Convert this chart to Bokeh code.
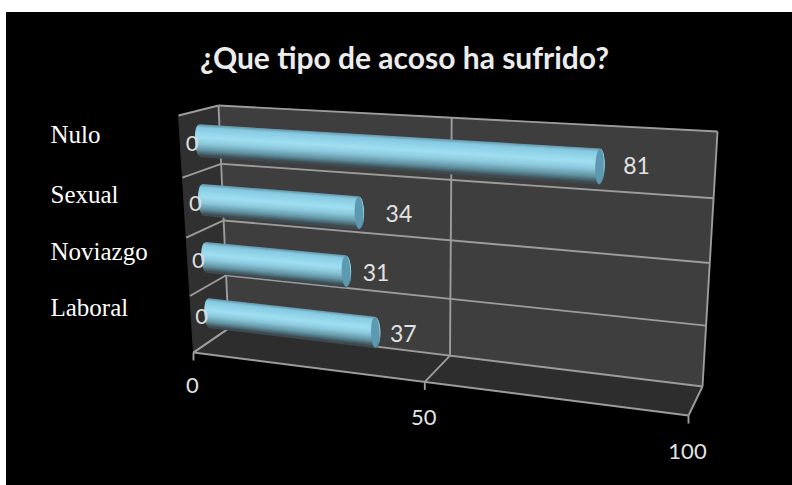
import numpy as np
from bokeh.core.properties import value
from bokeh.embed import file_html
from bokeh.models import Range1d
from bokeh.plotting import figure
from bokeh.resources import INLINE

# chart data
title = "¿Que tipo de acoso ha sufrido?"
categories = ["Nulo", "Sexual", "Noviazgo", "Laboral"]
values = [81, 34, 31, 37]
axis_ticks = [0, 50, 100]
axis_max = 100

W, H = 792, 485

# corners of the box in page pixels: front and back planes
FRONT = {"tl": (178, 115), "tr": (698, 146), "bl": (193, 352), "br": (688, 415)}
BACK = {"tl": (218, 105), "tr": (717, 131), "bl": (228, 328), "br": (702, 386)}
PERSP_V, PERSP_W = 1.14, 0.94


def warp(u, k):
    return u / (u + k * (1 - u))


def project(v, w, d):
    """Value v, height w (0 top, 1 floor), depth d (0 front, 1 back) to page pixels."""
    t, s = warp(v / axis_max, PERSP_V), warp(w, PERSP_W)
    pts = []
    for q in (FRONT, BACK):
        top = np.array(q["tl"]) * (1 - t) + np.array(q["tr"]) * t
        bot = np.array(q["bl"]) * (1 - t) + np.array(q["br"]) * t
        pts.append(top * (1 - s) + bot * s)
    return pts[0] * (1 - d) + pts[1] * d


def seg(p, a, b, color="#9c9c9c", width=1.9, alpha=1.0):
    p.line([a[0], b[0]], [a[1], b[1]], line_color=color, line_width=width, line_alpha=alpha)


def quad(p, pts, color):
    p.patch([q[0] for q in pts], [q[1] for q in pts], fill_color=color, line_color=color)


p = figure(width=W, height=H, output_backend="svg", toolbar_location=None,
           x_range=Range1d(0, W), y_range=Range1d(H, 0), min_border=0,
           background_fill_color="white", border_fill_color="white", outline_line_color=None)
p.xaxis.visible = False
p.yaxis.visible = False
p.xgrid.visible = False
p.ygrid.visible = False

# black slide behind the chart
p.patch([6, W, W, 6], [12, 12, H, H], fill_color="black", line_color="black")

# walls and floor
quad(p, [project(0, 0, 1), project(axis_max, 0, 1), project(axis_max, 1, 1), project(0, 1, 1)], "#3e3e3e")
quad(p, [project(0, 0, 0), project(0, 0, 1), project(0, 1, 1), project(0, 1, 0)], "#303030")
quad(p, [project(0, 1, 0), project(0, 1, 1), project(axis_max, 1, 1), project(axis_max, 1, 0)], "#2d2d2d")

# gridlines between categories, on the back wall and the left wall
n = len(categories)
for i in range(n + 1):
    w = i / n
    seg(p, project(0, w, 1), project(axis_max, w, 1))
    seg(p, project(0, w, 0), project(0, w, 1))

# gridlines at each value tick, on the back wall and the floor, with tick marks
for tick in axis_ticks:
    seg(p, project(tick, 0, 1), project(tick, 1, 1))
    seg(p, project(tick, 1, 0), project(tick, 1, 1))
    foot = project(tick, 1, 0)
    seg(p, foot, foot + np.array([0, 8]))
seg(p, project(0, 1, 0), project(axis_max, 1, 0))

# cylinders: horizontal strips shaded from the top edge to the underside
shade_pos = [0.0, 0.10, 0.40, 0.60, 0.80, 0.95, 1.0]
shade_rgb = [(98, 146, 166), (135, 202, 226), (160, 224, 242), (140, 200, 220),
             (100, 150, 165), (66, 88, 98), (62, 68, 70)]
STRIPS = 30
BAR_HALF = 0.0655
BAR_DEPTH = 0.5


def shade(f):
    rgb = [np.interp(f, shade_pos, [c[k] for c in shade_rgb]) for k in range(3)]
    return "#%02x%02x%02x" % tuple(int(c) for c in rgb)


for i, val in enumerate(values):
    wc = (i + 0.5) / n
    xs, ys, colors = [], [], []
    for k in range(STRIPS):
        f0, f1 = k / STRIPS, (k + 1) / STRIPS
        g0, g1 = 2 * f0 - 1, 2 * f1 - 1
        bulge0 = np.sqrt(max(0, 1 - g0 * g0)) * 4.5
        bulge1 = np.sqrt(max(0, 1 - g1 * g1)) * 4.5
        a = project(0, wc + g0 * BAR_HALF, BAR_DEPTH)
        b = project(val, wc + g0 * BAR_HALF, BAR_DEPTH)
        c = project(val, wc + g1 * BAR_HALF, BAR_DEPTH)
        d = project(0, wc + g1 * BAR_HALF, BAR_DEPTH)
        xs.append([a[0] - bulge0, b[0] + bulge0, c[0] + bulge1, d[0] - bulge1])
        ys.append([a[1], b[1], c[1], d[1]])
        colors.append(shade((k + 0.5) / STRIPS))
    p.patches(xs, ys, fill_color=colors, line_color=colors, line_width=1.3)

    # end cap at the value
    theta = np.linspace(0, 2 * np.pi, 40)
    top = project(val, wc - BAR_HALF, BAR_DEPTH)
    bot = project(val, wc + BAR_HALF, BAR_DEPTH)
    mid = (top + bot) / 2
    half = (bot - top) / 2
    cx = mid[0] + 4.5 * np.cos(theta) * 0.9 + half[0] * np.sin(theta)
    cy = mid[1] + half[1] * np.sin(theta)
    p.patch(cx, cy, fill_color="#5d99b0", line_color="#5d99b0", line_width=0.5)

label_font = value("Lato")
label_color = "#e2e2e2"

# category names to the left of the box
p.text(x=[50] * n, y=[project(0, (i + 0.5) / n, 0.5)[1] - 6 for i in range(n)], text=categories,
       text_font=value("Liberation Serif"), text_font_size="25px", text_color="white",
       text_align="left", text_baseline="middle")

# value labels next to each bar end, and the zero labels at each bar start
label_dx = [33, 36, 26, 24]
label_dy = [0, 2, 2, 2]
lx, ly, zx, zy = [], [], [], []
for i, val in enumerate(values):
    wc = (i + 0.5) / n
    end = project(val, wc, BAR_DEPTH)
    lx.append(end[0] + 4 + label_dx[i])
    ly.append(end[1] + label_dy[i] - 1)
    start = project(0, wc, BAR_DEPTH)
    zx.append(start[0] - 8)
    zy.append(start[1] + 3)
p.text(x=lx, y=ly, text=[str(v) for v in values], text_font=label_font, text_font_size="23px",
       text_color=label_color, text_align="center", text_baseline="middle")
p.text(x=zx, y=zy, text=["0"] * n, text_font=label_font, text_font_size="22px",
       text_color="#dcdcdc", text_align="center", text_baseline="middle")

# value axis labels under the floor
tick_gap = [33, 36, 36]
tx, ty = [], []
for tick, gap in zip(axis_ticks, tick_gap):
    foot = project(tick, 1, 0)
    tx.append(foot[0] - 1)
    ty.append(foot[1] + gap)
p.text(x=tx, y=ty, text=[str(t) for t in axis_ticks], text_font=label_font, text_font_size="22px",
       text_color=label_color, text_align="center", text_baseline="middle")

# chart title
p.text(x=[404], y=[56], text=[title], text_font=label_font, text_font_size="30px",
       text_font_style="bold", text_color="#ececec", text_align="center", text_baseline="middle")

open("out.html", "w").write(file_html(p, INLINE))
